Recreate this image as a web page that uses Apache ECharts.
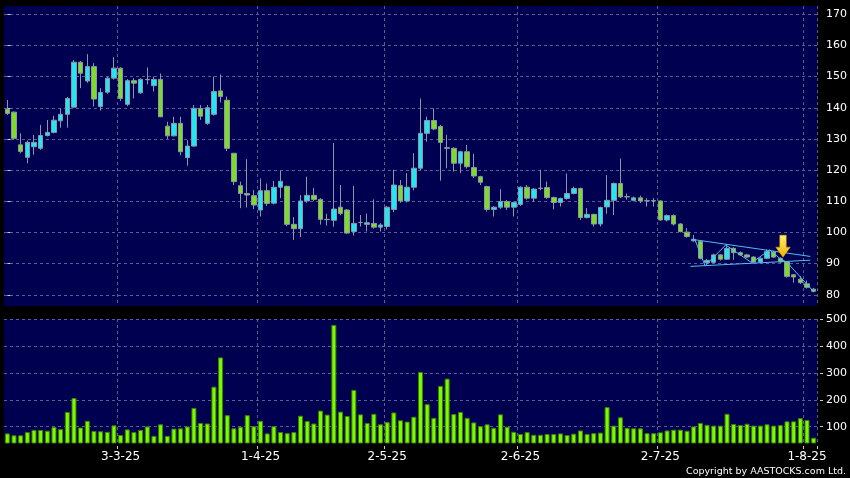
<!DOCTYPE html>
<html><head><meta charset="utf-8">
<script src="https://cdn.jsdelivr.net/npm/echarts@6/dist/echarts.min.js"></script>
<style>html,body{margin:0;padding:0;background:#000}#c{width:850px;height:478px}</style>
</head><body><div id="c"></div>
<script>
const dates = ['6-2-25','7-2-25','10-2-25','11-2-25','12-2-25','13-2-25','14-2-25','17-2-25','18-2-25','19-2-25','20-2-25','21-2-25','24-2-25','25-2-25','26-2-25','27-2-25','28-2-25',
'3-3-25','4-3-25','5-3-25','6-3-25','7-3-25','10-3-25','11-3-25','12-3-25','13-3-25','14-3-25','17-3-25','18-3-25','19-3-25','20-3-25','21-3-25','24-3-25','25-3-25','26-3-25','27-3-25','28-3-25','31-3-25',
'1-4-25','2-4-25','3-4-25','7-4-25','8-4-25','9-4-25','10-4-25','11-4-25','14-4-25','15-4-25','16-4-25','17-4-25','22-4-25','23-4-25','24-4-25','25-4-25','28-4-25','29-4-25','30-4-25',
'2-5-25','6-5-25','7-5-25','8-5-25','9-5-25','12-5-25','13-5-25','14-5-25','15-5-25','16-5-25','19-5-25','20-5-25','21-5-25','22-5-25','23-5-25','26-5-25','27-5-25','28-5-25','29-5-25','30-5-25',
'2-6-25','3-6-25','4-6-25','5-6-25','6-6-25','9-6-25','10-6-25','11-6-25','12-6-25','13-6-25','16-6-25','17-6-25','18-6-25','19-6-25','20-6-25','23-6-25','24-6-25','25-6-25','26-6-25','27-6-25','30-6-25',
'2-7-25','3-7-25','4-7-25','7-7-25','8-7-25','9-7-25','10-7-25','11-7-25','14-7-25','15-7-25','16-7-25','17-7-25','18-7-25','21-7-25','22-7-25','23-7-25','24-7-25','25-7-25','28-7-25','29-7-25','30-7-25','31-7-25',
'1-8-25','4-8-25'];
const labelDates = ['3-3-25','1-4-25','2-5-25','2-6-25','2-7-25','1-8-25'];

const opens = [139.5,138.6,128.1,124.1,127.5,127.0,131.1,132.1,135.8,137.9,
140.2,154.6,148.6,153.2,140.4,145.0,149.5,152.7,141.1,148.7,
144.8,149.1,147.1,149.1,134.1,131.0,135.0,124.0,127.7,139.8,
135.0,137.9,145.4,142.4,125.4,115.0,112.5,111.8,107.2,113.4,
109.4,114.5,114.8,102.6,101.2,110.1,111.9,110.6,104.2,103.9,
108.1,107.2,100.3,103.2,102.6,102.9,101.7,101.9,107.4,
115.0,110.1,114.5,120.6,131.8,135.9,134.0,127.2,127.0,122.2,
125.9,120.8,117.9,114.7,107.4,108.1,109.9,108.1,109.0,114.5,
111.0,114.2,114.4,111.2,109.6,110.9,112.5,114.1,104.8,105.8,
102.7,108.2,110.3,115.7,111.5,110.3,111.1,110.2,110.2,110.1,
104.0,105.4,102.7,100.1,97.8,97.1,90.3,90.4,92.8,91.4,
94.9,93.5,92.8,92.1,90.5,91.7,93.7,91.7,90.6,86.4,
85.0,83.5,81.8];
const closes = [138.2,130.2,126.0,128.9,128.9,131.1,132.1,136.0,137.9,143.0,
154.6,151.1,153.2,142.8,144.9,149.5,152.7,143.0,148.7,147.9,
149.1,149.0,149.1,137.1,131.0,135.0,125.9,127.7,139.8,137.3,
140.0,145.2,143.6,127.0,116.3,112.5,112.0,108.8,113.4,109.3,
114.5,116.4,102.6,101.2,110.1,111.9,110.6,104.2,104.1,107.5,
106.1,99.8,102.9,103.2,103.1,101.7,102.4,108.1,115.2,
110.1,114.5,120.6,131.8,135.9,133.2,128.9,127.0,122.2,125.9,
121.1,118.1,116.1,107.4,108.1,109.9,108.1,109.6,114.5,111.0,
113.9,114.1,111.2,109.6,110.9,112.5,114.1,104.8,105.8,102.7,
108.0,110.3,115.7,111.4,111.4,111.1,110.1,110.1,110.1,104.0,
105.4,102.7,100.3,98.7,97.3,91.7,91.0,92.8,91.4,94.9,
93.5,92.8,92.1,90.5,91.7,93.9,92.1,90.6,85.9,85.7,
83.9,82.4,81.1];
const lows = [137.7,129.7,125.4,122.2,124.9,126.5,130.8,131.8,133.6,133.6,
140.0,146.3,148.0,140.4,139.1,144.5,149.0,142.2,140.5,143.0,
144.5,147.5,145.2,137.0,130.0,130.8,124.8,121.4,127.5,136.1,
134.5,137.5,141.7,126.1,115.2,107.8,108.0,107.5,105.1,108.5,
109.0,111.0,102.0,97.6,98.5,109.5,110.0,102.5,102.2,101.8,
105.5,99.5,99.0,101.9,100.3,101.2,100.3,101.0,106.5,
109.5,109.6,113.5,120.0,129.1,132.8,116.6,120.6,119.5,119.0,
120.5,117.5,115.2,106.7,105.1,107.5,107.2,105.1,108.5,110.5,
109.9,113.5,110.8,107.4,108.3,110.5,112.2,104.0,104.5,101.9,
101.9,106.0,105.6,111.0,110.5,110.0,109.4,108.3,108.3,103.8,
103.5,102.2,100.0,98.3,97.0,91.3,89.8,90.2,91.0,91.2,
91.2,92.5,91.8,90.2,90.2,91.4,91.8,90.2,85.5,83.9,
83.5,82.0,80.8];
const highs = [142.5,138.8,131.8,129.5,131.3,134.5,136.1,137.4,139.8,143.5,
155.3,155.0,157.2,154.3,146.3,150.0,156.2,153.0,149.2,149.5,
149.5,152.9,150.0,151.0,135.5,137.1,137.1,129.6,140.9,140.9,
140.9,150.0,150.7,143.6,125.4,116.3,123.5,113.6,117.3,115.7,
116.5,119.8,115.0,104.9,112.0,117.9,114.3,111.0,106.0,128.7,
115.2,107.5,114.9,105.6,106.1,110.6,103.0,108.5,120.1,
116.8,119.0,125.4,143.0,137.2,139.8,134.5,131.3,127.3,126.2,
128.1,125.2,118.2,115.0,108.4,113.9,110.4,109.9,114.8,115.2,
114.2,120.1,116.3,111.5,111.2,118.9,114.7,114.4,107.8,106.0,
108.3,118.4,116.0,123.7,112.5,111.5,111.8,111.0,111.0,110.3,
105.8,105.8,103.0,101.4,99.2,97.5,91.5,93.2,93.0,96.2,
95.2,93.9,93.1,92.4,92.0,94.5,94.0,92.0,90.8,86.6,
85.9,84.6,82.2];
const volumes = [75,68,68,80,88,88,85,99,91,155,
207,97,122,84,83,81,105,69,90,80,
88,101,66,109,66,93,94,101,170,114,
112,249,358,143,94,100,143,102,122,75,
102,80,76,80,141,121,112,160,145,479,
156,140,237,146,114,148,109,117,153,
124,119,137,304,184,133,252,279,147,155,
133,116,102,109,96,146,100,81,73,80,
70,70,73,73,75,69,74,86,73,76,
78,173,104,135,96,94,94,76,76,79,
86,89,89,85,101,114,107,104,104,148,
110,106,111,104,104,109,104,106,120,120,
132,125,59];
const priceTicks = [80,90,100,110,120,130,140,150,160,170];
const volumeTicks = [100,200,300,400,500];
// pattern annotation (x = candle index, y = price)
const triUpper = [[102.7,97.8],[120.5,92.3]];
const triLower = [[102.5,89.1],[120.5,91.1]];
const zigzag = [[103.2,97.6],[104.7,89.3],[107.8,96.0],[111.7,90.3],[114.4,94.4],[115.9,91.7],[117.0,90.4],[121.0,81.0]];
const arrowPoint = [116.4,95.6];

const chart = echarts.init(document.getElementById('c'), null, {renderer:'canvas'});
const isLabelDate = (i, v) => labelDates.indexOf(v) >= 0;
const gridCol = '#5c5c90';
const dashed = {show:true, lineStyle:{color:gridCol, type:[3,3], width:1}};
const font = 'DejaVu Sans';
const annLine = (d) => ({type:'line', xAxisIndex:2, yAxisIndex:0, data:d, symbol:'none', silent:true,
  lineStyle:{color:'#50bdf2', width:1}, z:5});

chart.setOption({
  backgroundColor:'#000000',
  animation:false,
  grid:[
    {left:4, right:32, top:6, height:300, show:true, backgroundColor:'#000050', borderWidth:0},
    {left:4, right:32, top:319, height:124, show:true, backgroundColor:'#000050', borderWidth:0}
  ],
  xAxis:[
    {type:'category', gridIndex:0, data:dates, axisLine:{show:false}, axisTick:{show:false}, axisLabel:{show:false},
     splitLine:{show:true, interval:isLabelDate, lineStyle:{color:gridCol, type:[3,3], width:1}}},
    {type:'category', gridIndex:1, data:dates, offset:3, axisLine:{show:false},
     axisTick:{show:true, interval:isLabelDate, length:3, lineStyle:{color:'#cccccc'}},
     axisLabel:{interval:isLabelDate, color:'#ffffff', fontSize:12, fontFamily:font, margin:5},
     splitLine:{show:true, interval:isLabelDate, lineStyle:{color:gridCol, type:[3,3], width:1}}},
    {type:'value', gridIndex:0, min:-0.5, max:dates.length-0.5, show:false}
  ],
  yAxis:[
    {type:'value', gridIndex:0, position:'right', min:76.4, max:172.65, offset:3, scale:true,
     axisLine:{show:false},
     axisTick:{show:true, length:3, customValues:priceTicks, lineStyle:{color:'#cccccc'}},
     axisLabel:{customValues:priceTicks, color:'#ffffff', fontSize:11, fontFamily:font, margin:6},
     splitLine:dashed},
    {type:'value', gridIndex:1, position:'right', min:39.3, max:501, offset:3, scale:true,
     axisLine:{show:false},
     axisTick:{show:true, length:3, customValues:volumeTicks, lineStyle:{color:'#cccccc'}},
     axisLabel:{customValues:volumeTicks, color:'#ffffff', fontSize:11, fontFamily:font, margin:6},
     splitLine:dashed}
  ],
  series:[
    {type:'candlestick', xAxisIndex:0, yAxisIndex:0, barWidth:5,
     data: opens.map((o,i)=>[o, closes[i], lows[i], highs[i]]),
     itemStyle:{color:'#26e4f0', color0:'#7edc28', borderColor:'#8a98aa', borderColor0:'#8a98aa', borderWidth:1}},
    {type:'bar', xAxisIndex:1, yAxisIndex:1, barWidth:5, data:volumes,
     itemStyle:{color:'#7cfa00', borderColor:'#3b8200', borderWidth:1}},
    annLine(triUpper), annLine(triLower), annLine(zigzag),
    {type:'scatter', xAxisIndex:2, yAxisIndex:0, data:[arrowPoint], silent:true, z:6,
     symbol:'path://M4,0 L10.5,0 L10.5,12 L14.5,12 L7.25,22 L0,12 L4,12 Z', symbolSize:[14.5,22],
     itemStyle:{opacity:1, color:new echarts.graphic.LinearGradient(0,0,0,1,[{offset:0,color:'#fff36e'},{offset:1,color:'#f5b000'}]),
       borderColor:'#e0a000', borderWidth:0.5}}
  ],
  graphic:[{type:'text', right:4, bottom:1,
    style:{text:'Copyright by AASTOCKS.com Ltd.', fill:'#ffffff', font:'9.5px "DejaVu Sans"'}}]
});
</script></body></html>
